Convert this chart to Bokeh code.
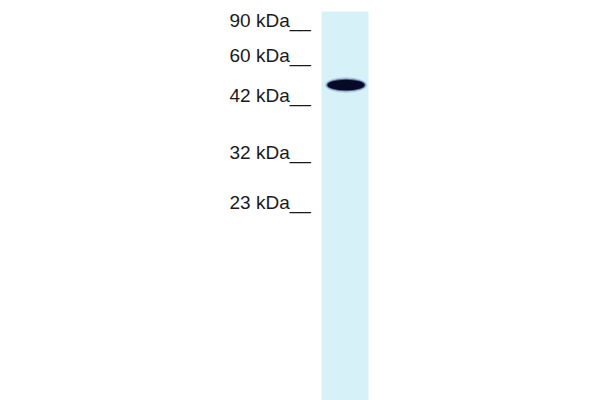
from bokeh.plotting import figure
from bokeh.models import Range1d, ColumnDataSource
from bokeh.core.properties import value
from bokeh.embed import file_html
from bokeh.resources import INLINE

# Marker ladder (molecular weight labels) and their migration positions (px from top of image)
marker_labels = ["90 kDa__", "60 kDa__", "42 kDa__", "32 kDa__", "23 kDa__"]
marker_baseline = [20, 54.5, 95, 152, 202]
label_x = [229, 229, 229, 229, 229]

# Lane extent
lane_left = [321]
lane_right = [368]
lane_top = [11]
lane_bottom = [400]

# Detected band
band_x = [345.5]
band_y = [84.5]
band_w = [37]
band_h = [10.5]

p = figure(width=600, height=400, output_backend="svg", toolbar_location=None,
           x_range=Range1d(0, 600), y_range=Range1d(400, 0),
           min_border=0, outline_line_color=None, background_fill_color="white",
           border_fill_color="white")
p.axis.visible = False
p.grid.visible = False

p.quad(left=lane_left, right=lane_right, top=lane_top, bottom=lane_bottom,
       fill_color="#d6f2f8", line_color=None)

# soft halo around the band then dark core
p.ellipse(x=band_x, y=band_y, width=[w + 5 for w in band_w], height=[h + 5 for h in band_h],
          fill_color="#3a4f8a", fill_alpha=0.25, line_color=None)
p.ellipse(x=band_x, y=band_y, width=[w + 2 for w in band_w], height=[h + 2 for h in band_h],
          fill_color="#1b2660", fill_alpha=0.6, line_color=None)
p.ellipse(x=band_x, y=band_y, width=band_w, height=band_h,
          fill_color="#070a26", line_color=None)

src = ColumnDataSource(dict(x=label_x, y=marker_baseline, t=marker_labels))
p.text(x="x", y="y", text="t", source=src, text_font=value("Liberation Sans"),
       text_font_size="19px", text_color="#1a1a1a", text_align="left",
       text_baseline="alphabetic")

open("out.html", "w").write(file_html(p, INLINE))
